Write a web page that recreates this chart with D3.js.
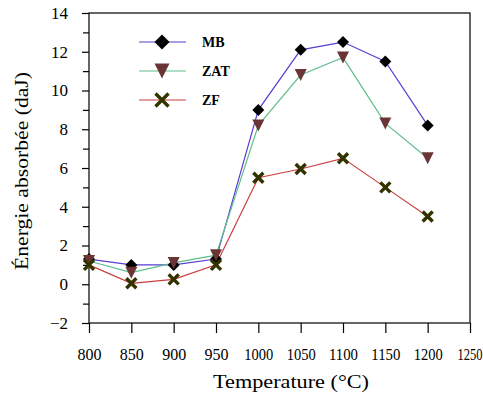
<!DOCTYPE html>
<html>
<head>
<meta charset="utf-8">
<script src="https://cdn.jsdelivr.net/npm/d3@7"></script>
<style>
  body { margin: 0; background: #fff; }
</style>
</head>
<body>
<div id="chart"></div>
<script>
// Temperatures (x) and energy values per zone
const temps = [800, 850, 900, 950, 1000, 1050, 1100, 1150, 1200];
const mbValues = [1.3, 1.0, 1.0, 1.3, 9.0, 12.1, 12.5, 11.5, 8.2];
const zatValues = [1.2, 0.6, 1.1, 1.5, 8.2, 10.8, 11.7, 8.3, 6.5];
const zfValues = [1.0, 0.05, 0.25, 1.0, 5.5, 5.95, 6.5, 5.0, 3.5];
const xTicks = [800, 850, 900, 950, 1000, 1050, 1100, 1150, 1200, 1250];
const yTicks = [-2, 0, 2, 4, 6, 8, 10, 12, 14];

const FONT = "Liberation Serif";

const series = [
  { name: "MB", values: mbValues, color: "#5a3cd4", marker: "diamond", mcolor: "#000" },
  { name: "ZAT", values: zatValues, color: "#5fbf8c", marker: "triangle", mcolor: "#6b3535" },
  { name: "ZF", values: zfValues, color: "#c84040", marker: "cross", mcolor: "#333300" }
];

const W = 483, H = 394;
const margin = { top: 13, right: 13, bottom: 71, left: 89 };
const width = W - margin.left - margin.right;
const height = H - margin.top - margin.bottom;

const svg = d3.select("#chart").append("svg")
  .attr("width", W).attr("height", H)
  .append("g")
  .attr("transform", "translate(" + margin.left + "," + margin.top + ")");

const x = d3.scaleLinear().domain([800, 1250]).range([0, width]);
const y = d3.scaleLinear().domain([-2, 14]).range([height, 0]);

// frame
svg.append("rect")
  .attr("width", width).attr("height", height)
  .style("fill", "none").style("stroke", "#000").style("stroke-width", 1.2);

// axes
const yAxis = d3.axisLeft(y).tickValues(yTicks).tickSize(7).tickPadding(14);
const yMinor = d3.axisLeft(y).tickValues(d3.range(-1, 14, 2)).tickSize(6).tickFormat("");
const xAxis = d3.axisBottom(x).tickValues(xTicks).tickSize(10).tickPadding(15)
  .tickFormat(d3.format("d"));

function styleAxis(g) {
  g.attr("font-family", FONT);
  g.select(".domain").remove();
  g.selectAll("line").style("stroke", "#000").style("stroke-width", 1.2);
  g.selectAll("text").style("font-size", "17px").style("fill", "#000")
    .style("font-family", FONT);
}

svg.append("g").call(yAxis).call(styleAxis);
svg.append("g").call(yMinor).call(styleAxis);
const xg = svg.append("g").attr("transform", "translate(0," + height + ")")
  .call(xAxis).call(styleAxis);
xg.selectAll("text")
  .attr("textLength", function (d) { return d < 1000 ? 24 : 29; })
  .attr("lengthAdjust", "spacingAndGlyphs");
// last label sits on the right edge: keep it inside the page
xg.selectAll("text").filter(function (d) { return d === 1250; })
  .attr("text-anchor", "end").attr("x", 12).attr("textLength", 25);

// axis titles
svg.append("text")
  .attr("x", 202).attr("y", height + 65)
  .attr("text-anchor", "middle")
  .attr("textLength", 156).attr("lengthAdjust", "spacingAndGlyphs")
  .style("font-family", FONT)
  .style("font-size", "19px")
  .text("Temperature (°C)");

svg.append("text")
  .attr("transform", "rotate(-90)")
  .attr("x", -158).attr("y", -61)
  .attr("text-anchor", "middle")
  .attr("textLength", 198).attr("lengthAdjust", "spacingAndGlyphs")
  .style("font-family", FONT)
  .style("font-size", "19px")
  .text("Énergie absorbée (daJ)");

// markers
function drawMarker(g, type, color, cx, cy, r) {
  if (type === "diamond") {
    g.append("path")
      .attr("d", "M0," + (-r) + "L" + r + ",0L0," + r + "L" + (-r) + ",0Z")
      .attr("transform", "translate(" + cx + "," + cy + ")")
      .style("fill", color);
  } else if (type === "triangle") {
    g.append("path")
      .attr("d", "M" + (-r) + "," + (-r) + "L" + r + "," + (-r) + "L0," + r + "Z")
      .attr("transform", "translate(" + cx + "," + cy + ")")
      .style("fill", color);
  } else {
    const c = r - 1;
    g.append("path")
      .attr("d", "M" + (-c) + "," + (-c) + "L" + c + "," + c + "M" + (-c) + "," + c + "L" + c + "," + (-c))
      .attr("transform", "translate(" + cx + "," + cy + ")")
      .style("stroke", color).style("stroke-width", 3.4).style("fill", "none");
  }
}

const line = d3.line().x(function (d) { return x(d[0]); }).y(function (d) { return y(d[1]); });

series.forEach(function (s) {
  const pts = temps.map(function (t, i) { return [t, s.values[i]]; });
  svg.append("path").datum(pts)
    .attr("d", line)
    .style("fill", "none").style("stroke", s.color).style("stroke-width", 1.2);
});

series.forEach(function (s) {
  const g = svg.append("g");
  temps.forEach(function (t, i) {
    drawMarker(g, s.marker, s.mcolor, x(t), y(s.values[i]), 6);
  });
});

// legend
const legend = svg.append("g").attr("transform", "translate(50,0)");
series.forEach(function (s, i) {
  const ly = 29 + i * 29;
  legend.append("line")
    .attr("x1", 0).attr("x2", 47).attr("y1", ly).attr("y2", ly)
    .style("stroke", s.color).style("stroke-width", 1.2);
  drawMarker(legend, s.marker, s.mcolor, 23, ly, 7.5);
  legend.append("text")
    .attr("x", 63).attr("y", ly + 5)
    .style("font-family", FONT)
    .style("font-size", "14px").style("font-weight", "bold")
    .text(s.name);
});
</script>
</body>
</html>
